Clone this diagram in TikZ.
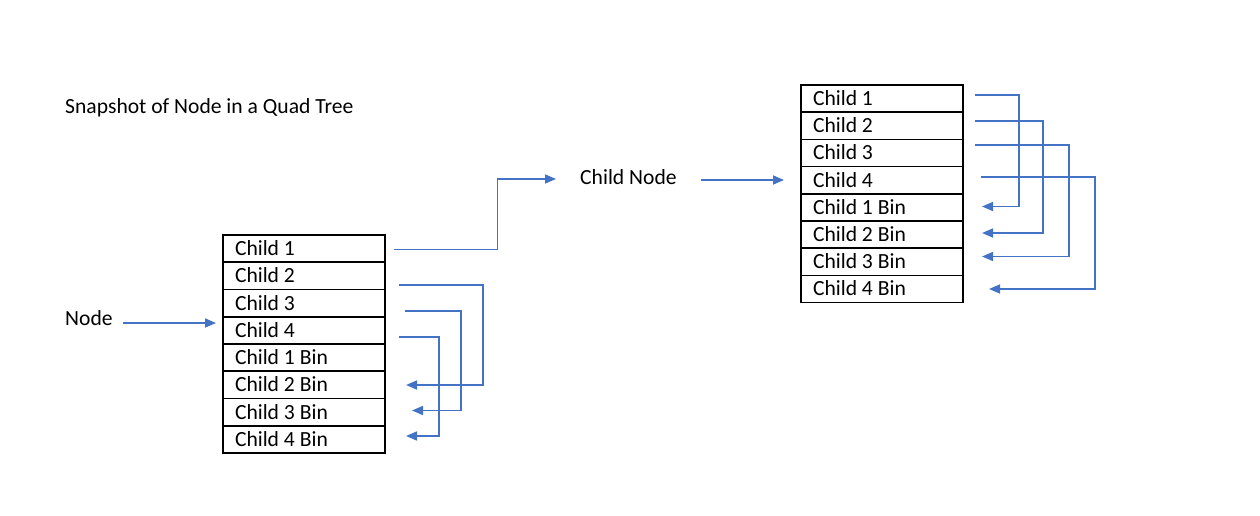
\documentclass[tikz,border=0pt]{standalone}
\usepackage{fontspec}
\setmainfont{Carlito}
\usetikzlibrary{arrows.meta}
\definecolor{arrowblue}{HTML}{4472C4}
\begin{document}
\begin{tikzpicture}[x=1pt,y=-1pt,
  cell/.style={draw=black, line width=1.6pt, minimum height=27.25pt, text width=138pt,
    inner xsep=12pt, inner ysep=0pt, text height=13.8pt, text depth=0pt, align=flush left,
    font=\fontsize{21.6}{25}\selectfont},
  lbl/.style={anchor=base west, inner sep=0pt, font=\fontsize{21.6}{25}\selectfont},
  link/.style={draw=arrowblue, line width=1.6pt, -{Triangle[length=11pt,width=9pt]}},
  thinlink/.style={draw=arrowblue, line width=1pt},
]
\useasboundingbox (0,0) rectangle (1260,516);

% labels
\node[lbl] (title) at (65,113.5) {Snapshot of Node in a Quad Tree};
\node[lbl] (nodelbl) at (65,325) {Node};
\node[lbl] (childnode) at (580,184) {Child Node};

% left table
\foreach \i/\t in {1/Child 1,2/Child 2,3/Child 3,4/Child 4,5/Child 1 Bin,6/Child 2 Bin,7/Child 3 Bin,8/Child 4 Bin}{
  \node[cell] (L\i) at (304,{235+27.25*(\i-0.5)}) {\t};
}
% right table
\foreach \i/\t in {1/Child 1,2/Child 2,3/Child 3,4/Child 4,5/Child 1 Bin,6/Child 2 Bin,7/Child 3 Bin,8/Child 4 Bin}{
  \node[cell] (R\i) at (882,{85+27.2*(\i-0.5)}) {\t};
}

% Node -> table
\coordinate (n0) at (123,323);
\coordinate (n1) at (216,323);
\draw[link] (n0) -- (n1);

% Child 1 -> Child Node
\coordinate (c1s) at (394,249);
\coordinate (c1e) at (556,179);
\draw[thinlink] (c1s) -| (497,179);
\draw[link] (497,179) -- (c1e);

% Child Node -> right table
\coordinate (cn0) at (701,180);
\coordinate (cn1) at (784,180);
\draw[link] (cn0) -- (cn1);

% left loops
\coordinate (ls2) at (399,285);   \coordinate (le2) at (406,385);
\coordinate (ls3) at (405,311);   \coordinate (le3) at (412,410.5);
\coordinate (ls4) at (399,337);   \coordinate (le4) at (406,436);
\draw[link] (ls2) -- ++(84,0) |- (le2);
\draw[link] (ls3) -- ++(56,0) |- (le3);
\draw[link] (ls4) -- ++(40,0) |- (le4);

% right loops
\coordinate (rs1) at (975,95);    \coordinate (re1) at (982,206.5);
\coordinate (rs2) at (975,121);   \coordinate (re2) at (982,233);
\coordinate (rs3) at (975,145);   \coordinate (re3) at (982,256.5);
\coordinate (rs4) at (981,177);   \coordinate (re4) at (989,289);
\draw[link] (rs1) -- ++(44,0) |- (re1);
\draw[link] (rs2) -- ++(68,0) |- (re2);
\draw[link] (rs3) -- ++(94,0) |- (re3);
\draw[link] (rs4) -- ++(114,0) |- (re4);
\end{tikzpicture}
\end{document}
